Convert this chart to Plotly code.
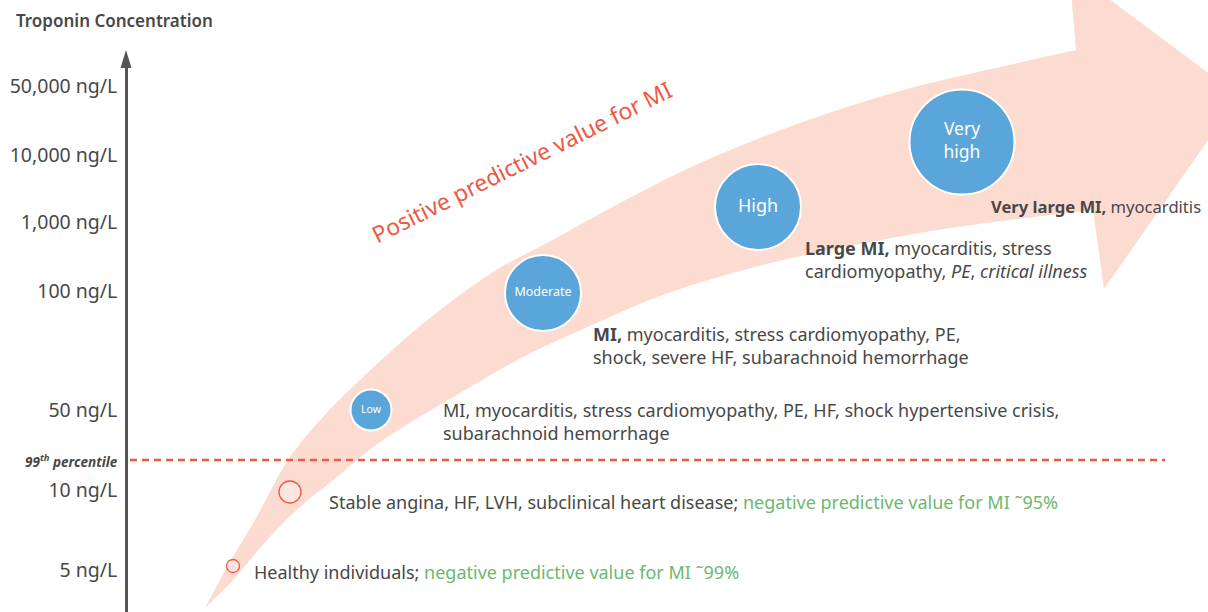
import plotly.graph_objects as go

W, H = 1208, 612
FONT = "Noto Sans"
GRAY = "#484848"
GREEN = "#6cb86f"
RED = "#ec5a45"
BLUE = "#5aa5d9"
PEACH = "#fcdcd0"

# ---- axis (ordinal troponin levels, pixel scale of the infographic) ----
tick_labels = ["50,000 ng/L", "10,000 ng/L", "1,000 ng/L", "100 ng/L", "50 ng/L",
               "<span style='font-size:13.5px'><b><i>99<sup>th</sup> percentile</i></b></span>",
               "10 ng/L", "5 ng/L"]
tick_pos = [86, 155, 222, 291, 410, 460, 490, 570]
percentile_y = 460

# ---- baseline levels (red outline circles) ----
base_x = [233, 290]
base_y = [566, 492]
base_size = [13, 22]

# ---- PPV levels (blue circles) ----
level_names = ["Low", "Moderate", "High", "Very<br>high"]
level_x = [371, 543, 758, 962]
level_y = [410, 293, 207, 142]
level_size = [41, 76, 86, 105]
level_font = [10.5, 12.5, 18, 17.5]

# ---- descriptions ----
descriptions = [
    "Healthy individuals; <span style='color:%s'>negative predictive value for MI ˜99%%</span>" % GREEN,
    "Stable angina, HF, LVH, subclinical heart disease; <span style='color:%s'>negative predictive value for MI ˜95%%</span>" % GREEN,
    "MI, myocarditis, stress cardiomyopathy, PE, HF, shock hypertensive crisis,<br>subarachnoid hemorrhage",
    "<b>MI,</b> myocarditis, stress cardiomyopathy, PE,<br>shock, severe HF, subarachnoid hemorrhage",
    "<b>Large MI,</b> myocarditis, stress<br>cardiomyopathy, <i>PE</i>, <i>critical illness</i>",
    "<b>Very large MI,</b> myocarditis",
]
desc_x = [252, 327, 441, 591, 803, 989]
desc_y = [572, 502, 421, 345.5, 259, 206]
desc_size = [18, 18, 18, 18, 18, 16.6]

# ---- arrow band outline ----
band_lower = [(205, 608), (233, 580), (267, 540), (300, 507), (337, 477), (383, 440),
              (460, 393), (525, 356), (590, 326), (660, 296), (740, 271), (820, 252),
              (950, 228), (1093, 210)]
arrow_head = [(1104, 289), (1239, 96), (1069, -31), (1076, 50)]
band_upper = [(205, 608), (227, 567), (255, 520), (288, 460), (322, 418), (360, 380),
              (420, 326), (490, 274), (547, 243), (620, 203), (700, 163), (800, 123),
              (900, 91), (1000, 67), (1076, 50)]


def smooth(pts):
    out = []
    n = len(pts)
    for i in range(n - 1):
        p0 = pts[max(i - 1, 0)]
        p1 = pts[i]
        p2 = pts[i + 1]
        p3 = pts[min(i + 2, n - 1)]
        c1 = (p1[0] + (p2[0] - p0[0]) / 6, p1[1] + (p2[1] - p0[1]) / 6)
        c2 = (p2[0] - (p3[0] - p1[0]) / 6, p2[1] - (p3[1] - p1[1]) / 6)
        out.append("C %.1f,%.1f %.1f,%.1f %.1f,%.1f" % (c1[0], c1[1], c2[0], c2[1], p2[0], p2[1]))
    return " ".join(out)


path = "M %d,%d " % band_lower[0] + smooth(band_lower)
for p in arrow_head:
    path += " L %d,%d" % p
path += " " + smooth(band_upper[::-1]) + " Z"

fig = go.Figure()

fig.add_trace(go.Scatter(
    x=base_x, y=base_y, mode="markers",
    marker=dict(size=base_size, color="#fde6df", opacity=1,
                line=dict(color=RED, width=1.3)),
    hoverinfo="skip", showlegend=False, cliponaxis=False,
))
fig.add_trace(go.Scatter(
    x=level_x, y=level_y, mode="markers+text", text=level_names,
    textposition="middle center",
    textfont=dict(family=FONT, size=level_font, color="white"),
    marker=dict(size=level_size, color=BLUE, opacity=1,
                line=dict(color="white", width=2)),
    hoverinfo="skip", showlegend=False, cliponaxis=False,
))

# dummy trace for the free concentration axis
fig.add_trace(go.Scatter(x=[None], y=[None], xaxis="x", yaxis="y2",
                         showlegend=False, hoverinfo="skip"))

shapes = [
    dict(type="path", path=path, xref="x", yref="y", fillcolor=PEACH,
         line=dict(width=0), layer="below"),
    dict(type="line", xref="x", yref="y", x0=130, x1=1165, y0=percentile_y, y1=percentile_y,
         line=dict(color=RED, width=2.4, dash="7px,5px"), layer="below"),
    dict(type="path", xref="x", yref="y", path="M 126,50 L 131.5,68 L 120.5,68 Z",
         fillcolor="#555555", line=dict(width=0)),
]

annotations = [
    dict(x=14, y=20, xref="x", yref="y", text="Troponin Concentration", showarrow=False,
         xanchor="left", yanchor="middle",
         font=dict(family=FONT, size=17, color=GRAY, weight=600)),
    dict(x=521, y=162, xref="x", yref="y", text="Positive predictive value for MI",
         showarrow=False, textangle=-26.5, xanchor="center", yanchor="middle",
         font=dict(family=FONT, size=23, color=RED)),
]
for t, x, y, s in zip(descriptions, desc_x, desc_y, desc_size):
    annotations.append(dict(x=x, y=y, xref="x", yref="y", text=t, showarrow=False,
                            xanchor="left", yanchor="middle", align="left",
                            font=dict(family=FONT, size=s, color=GRAY)))

fig.update_layout(
    width=W, height=H, margin=dict(l=0, r=0, t=0, b=0),
    paper_bgcolor="white", plot_bgcolor="rgba(0,0,0,0)", template="none",
    xaxis=dict(range=[0, W], visible=False, domain=[0, 1], fixedrange=True),
    yaxis=dict(range=[H, 0], visible=False, domain=[0, 1], fixedrange=True),
    yaxis2=dict(domain=[0, (H - 60) / H], anchor="free", position=126 / W,
                range=[H, 60], showline=True, linecolor="#555555", linewidth=2.6,
                tickvals=tick_pos, ticktext=tick_labels, ticks="", showgrid=False,
                zeroline=False, automargin=False, ticklabelstandoff=4,
                tickfont=dict(family=FONT, size=19.5, color=GRAY), fixedrange=True),
    shapes=shapes, annotations=annotations, showlegend=False,
)

fig.write_html("out.html", config={"displayModeBar": False},
               post_script="document.body.style.margin='0';document.body.style.overflow='hidden';")
